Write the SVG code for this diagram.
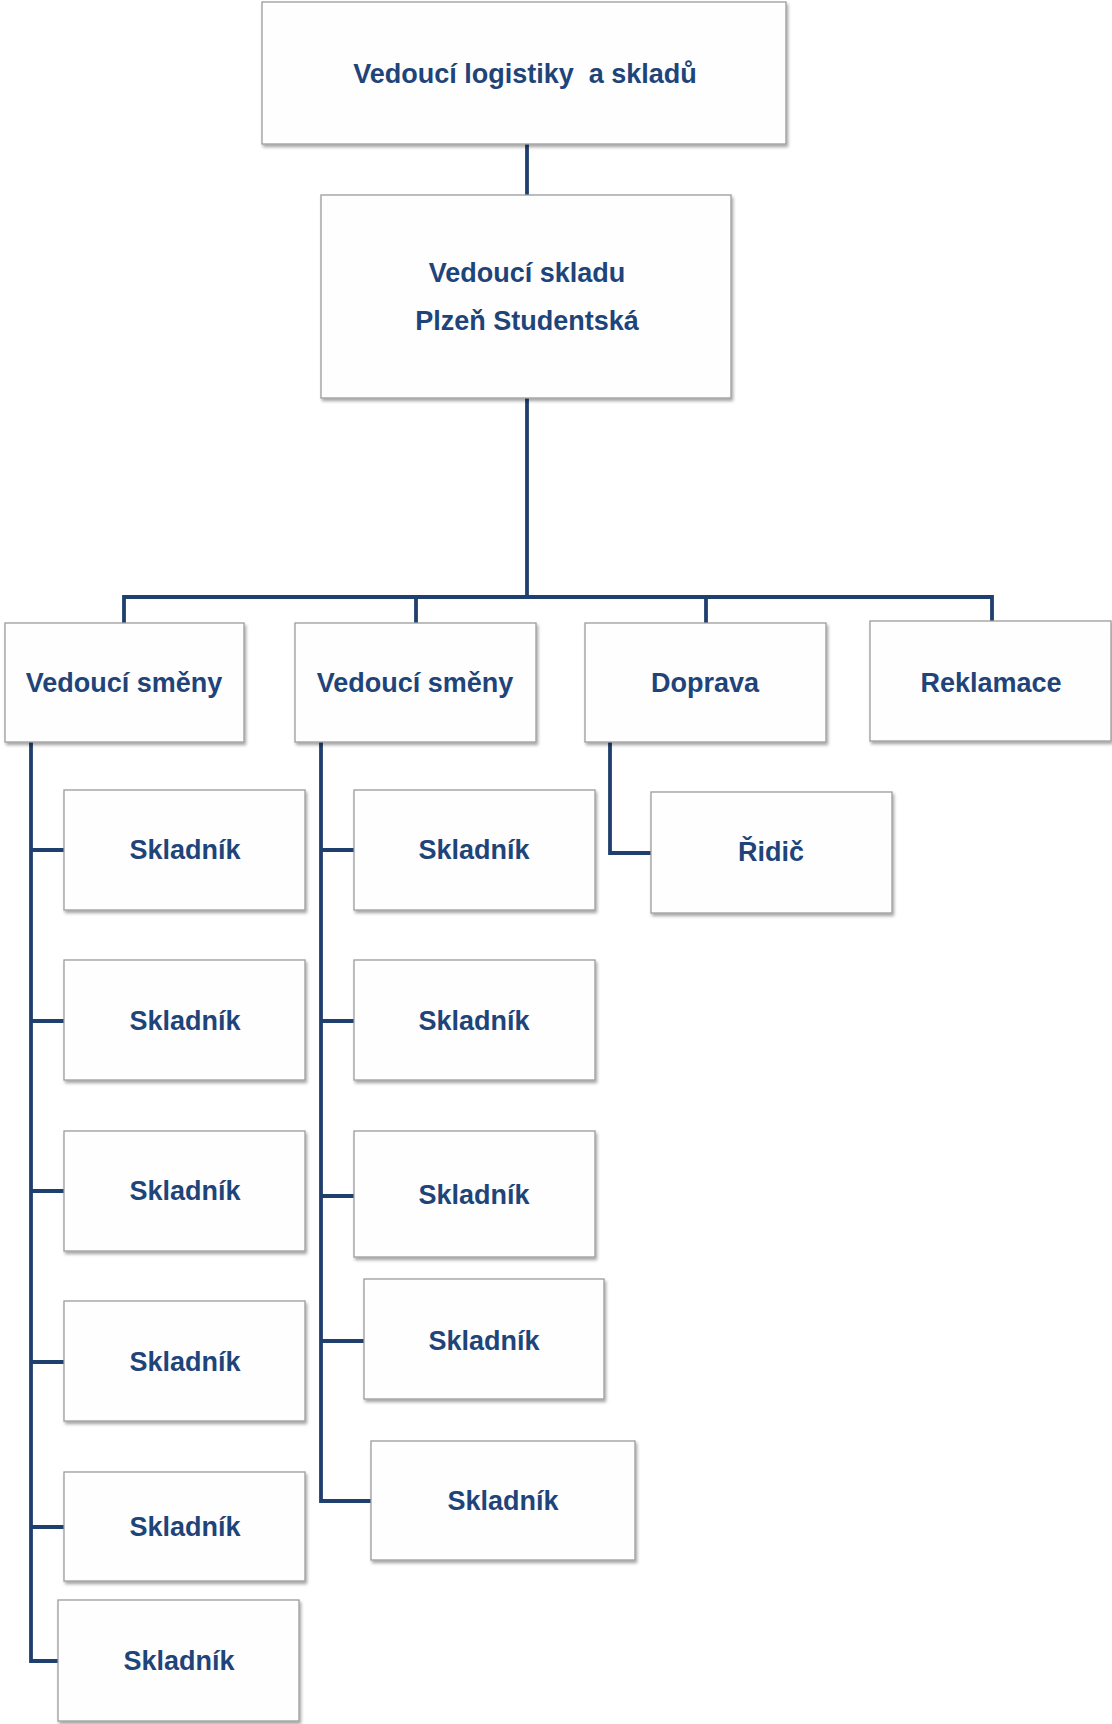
<svg xmlns="http://www.w3.org/2000/svg" width="1112" height="1724" viewBox="0 0 1112 1724">
<defs>
<filter id="sh" x="-5%" y="-5%" width="115%" height="120%">
<feDropShadow dx="1.5" dy="2.5" stdDeviation="1.5" flood-color="#000" flood-opacity="0.35"/>
</filter>
<style>
.box{fill:#fefefe;stroke:#9c9c9c;stroke-width:1.3;filter:url(#sh)}
.t{font-family:"Liberation Sans",Arial,sans-serif;font-weight:700;font-size:27px;fill:#1f4479;text-anchor:middle;white-space:pre}
.c{fill:none;stroke:#1f3f6e;stroke-width:3.8;stroke-linejoin:miter}
</style>
</defs>
<rect width="1112" height="1724" fill="#ffffff"/>
<g id="connectors">
<path class="c" d="M527 144 V195"/>
<path class="c" d="M527 398 V597"/>
<path class="c" d="M124 623 V597 H992 V621"/>
<path class="c" d="M416 597 V623"/>
<path class="c" d="M706 597 V623"/>
<path class="c" d="M31 742 V1661 H58"/>
<path class="c" d="M31 850 H64 M31 1021 H64 M31 1191 H64 M31 1362 H64 M31 1527 H64"/>
<path class="c" d="M321 742 V1501 H371"/>
<path class="c" d="M321 850 H354 M321 1021 H354 M321 1196 H354 M321 1341 H364"/>
<path class="c" d="M610 742 V853 H651"/>
</g>
<g id="n_vedouci_logistiky"><rect class="box" x="262" y="2" width="524" height="142"/><text class="t" x="525" y="83" xml:space="preserve">Vedoucí logistiky  a skladů</text></g>
<g id="n_vedouci_skladu"><rect class="box" x="321" y="195" width="410" height="203"/><text class="t" x="527" y="282">Vedoucí skladu</text><text class="t" x="527" y="330">Plzeň Studentská</text></g>
<g id="n_vs1"><rect class="box" x="5" y="623" width="239" height="119"/><text class="t" x="124" y="692">Vedoucí směny</text></g>
<g id="n_vs2"><rect class="box" x="295" y="623" width="241" height="119"/><text class="t" x="415" y="692">Vedoucí směny</text></g>
<g id="n_doprava"><rect class="box" x="585" y="623" width="241" height="119"/><text class="t" x="705" y="692">Doprava</text></g>
<g id="n_reklamace"><rect class="box" x="870" y="621" width="241" height="120"/><text class="t" x="991" y="692">Reklamace</text></g>
<g id="n_ridic"><rect class="box" x="651" y="792" width="241" height="121"/><text class="t" x="771" y="861">Řidič</text></g>
<g id="n_s1_1"><rect class="box" x="64" y="790" width="241" height="120"/><text class="t" x="185" y="859">Skladník</text></g>
<g id="n_s1_2"><rect class="box" x="64" y="960" width="241" height="120"/><text class="t" x="185" y="1030">Skladník</text></g>
<g id="n_s1_3"><rect class="box" x="64" y="1131" width="241" height="120"/><text class="t" x="185" y="1200">Skladník</text></g>
<g id="n_s1_4"><rect class="box" x="64" y="1301" width="241" height="120"/><text class="t" x="185" y="1371">Skladník</text></g>
<g id="n_s1_5"><rect class="box" x="64" y="1472" width="241" height="109"/><text class="t" x="185" y="1536">Skladník</text></g>
<g id="n_s1_6"><rect class="box" x="58" y="1600" width="241" height="121"/><text class="t" x="179" y="1670">Skladník</text></g>
<g id="n_s2_1"><rect class="box" x="354" y="790" width="241" height="120"/><text class="t" x="474" y="859">Skladník</text></g>
<g id="n_s2_2"><rect class="box" x="354" y="960" width="241" height="120"/><text class="t" x="474" y="1030">Skladník</text></g>
<g id="n_s2_3"><rect class="box" x="354" y="1131" width="241" height="126"/><text class="t" x="474" y="1204">Skladník</text></g>
<g id="n_s2_4"><rect class="box" x="364" y="1279" width="240" height="120"/><text class="t" x="484" y="1350">Skladník</text></g>
<g id="n_s2_5"><rect class="box" x="371" y="1441" width="264" height="119"/><text class="t" x="503" y="1510">Skladník</text></g>
</svg>
